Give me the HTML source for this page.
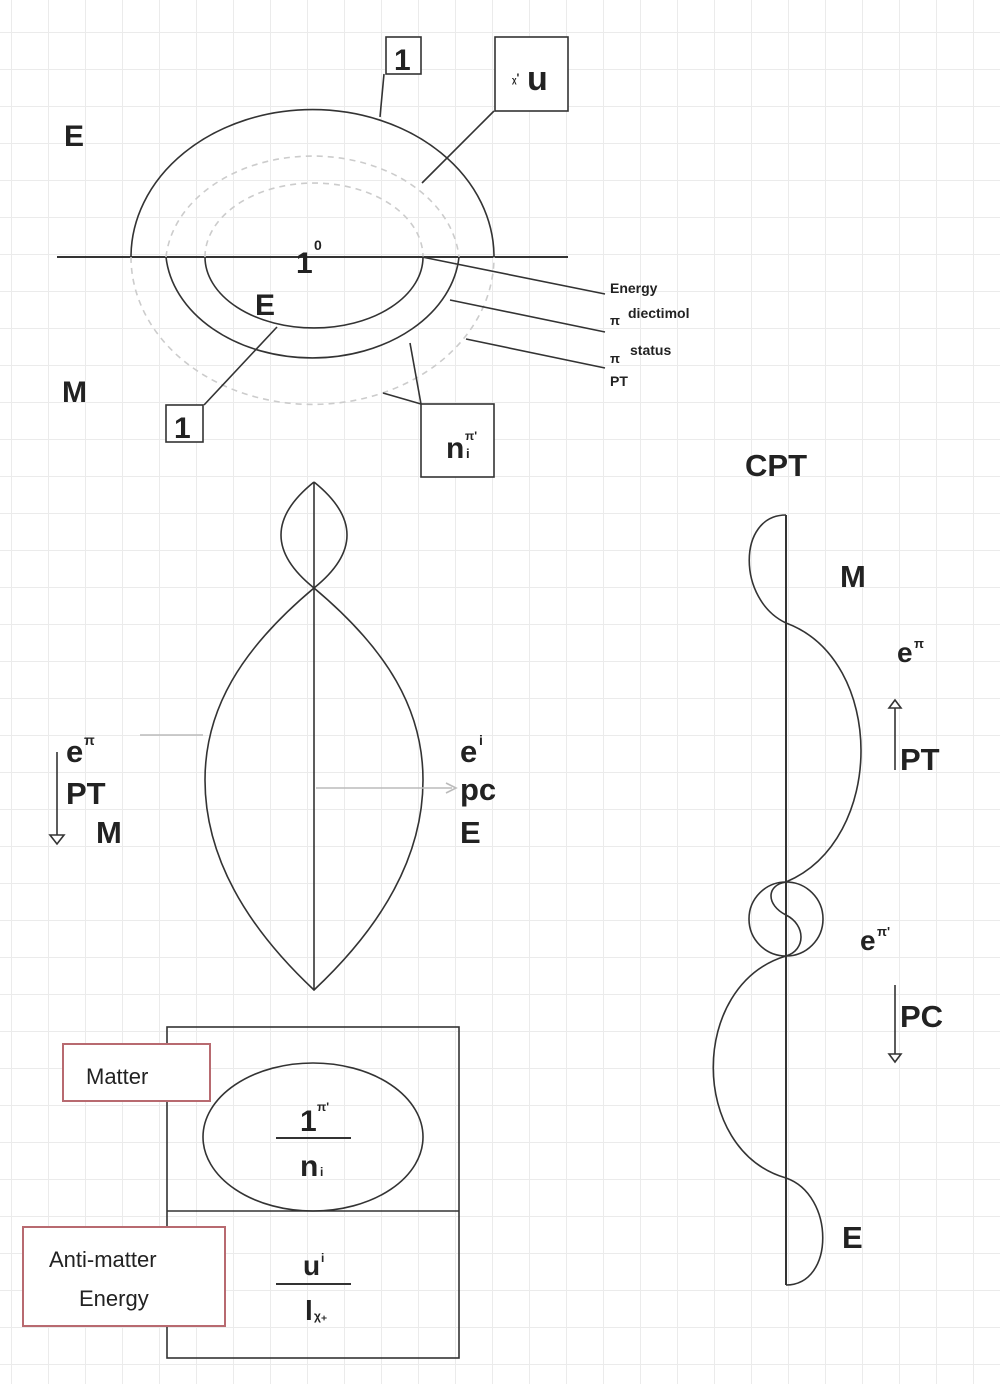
<!DOCTYPE html>
<html><head><meta charset="utf-8"><style>
html,body{margin:0;padding:0;background:#fff}
svg{display:block}
.b{font-family:"Liberation Sans",sans-serif;font-weight:bold;fill:#222}
.n{font-family:"Liberation Sans",sans-serif;fill:#222}
</style></head><body>
<svg width="1000" height="1384" viewBox="0 0 1000 1384" xmlns="http://www.w3.org/2000/svg">
<defs>
<pattern id="g" x="11" y="32" width="37" height="37" patternUnits="userSpaceOnUse">
<path d="M0 0H37M0 0V37" stroke="#ebebeb" stroke-width="2" fill="none"/>
</pattern>
</defs>
<rect width="1000" height="1384" fill="#fff"/>
<rect width="1000" height="1384" fill="url(#g)"/>
<g stroke="#333" stroke-width="1.6" fill="none">
<line x1="57" y1="257" x2="568" y2="257" stroke-width="2"/>
<path d="M131 257 A181 147 0 0 1 494 257"/>
<path d="M131 257 A181 147 0 0 0 494 257" stroke="#ccc" stroke-dasharray="6 5"/>
<path d="M166 257 A147 110 0 0 1 459 257" stroke="#ccc" stroke-dasharray="6 5"/>
<path d="M166 257 A147 110 0 0 0 459 257"/>
<path d="M205 257 A109 74 0 0 1 423 257" stroke="#ccc" stroke-dasharray="6 5"/>
<path d="M205 257 A109 71 0 0 0 423 257"/>
<rect x="386" y="37" width="35" height="37" fill="#fff"/>
<line x1="384" y1="74" x2="380" y2="117"/>
<rect x="495" y="37" width="73" height="74" fill="#fff"/>
<line x1="494" y1="111" x2="422" y2="183"/>
<rect x="166" y="405" width="37" height="37" fill="#fff"/>
<line x1="204" y1="405" x2="277" y2="327"/>
<rect x="421" y="404" width="73" height="73" fill="#fff"/>
<line x1="421" y1="404" x2="410" y2="343"/>
<line x1="421" y1="404" x2="383" y2="393"/>
<line x1="422" y1="257" x2="605" y2="294"/>
<line x1="450" y1="300" x2="605" y2="332"/>
<line x1="466" y1="339" x2="605" y2="368"/>
<line x1="314" y1="482" x2="314" y2="990"/>
<path d="M314 482 Q248 535 314 588 Q380 535 314 482"/>
<path d="M314 588 C240 650 205 710 205 780 C205 860 250 930 314 990 C378 930 423 860 423 780 C423 710 388 650 314 588"/>
<line x1="57" y1="752" x2="57" y2="835"/>
<path d="M50 835 H64 L57 844 Z"/>
<line x1="140" y1="735" x2="203" y2="735" stroke="#bbb"/>
<line x1="316" y1="788" x2="452" y2="788" stroke="#bbb"/>
<path d="M446 783 L456 788 L446 793" stroke="#bbb"/>
<rect x="167" y="1027" width="292" height="331"/>
<line x1="167" y1="1211" x2="459" y2="1211"/>
<ellipse cx="313" cy="1137" rx="110" ry="74"/>
<line x1="276" y1="1138" x2="351" y2="1138" stroke-width="2"/>
<line x1="276" y1="1284" x2="351" y2="1284" stroke-width="2"/>
<rect x="63" y="1044" width="147" height="57" stroke="#b86a70" stroke-width="2" fill="#fff"/>
<rect x="23" y="1227" width="202" height="99" stroke="#b86a70" stroke-width="2" fill="#fff"/>
<line x1="786" y1="515" x2="786" y2="1285" stroke-width="2"/>
<path d="M786 515 C737 515 737 600 786 623 C886 660 886 840 786 882"/>
<circle cx="786" cy="919" r="37"/>
<path d="M786 882 C766 885 766 905 786 915 C806 925 806 950 786 956"/>
<path d="M786 956 C689 985 689 1150 786 1178 C835 1195 835 1285 786 1285"/>
<line x1="895" y1="708" x2="895" y2="770"/>
<path d="M889 708 H901 L895 700 Z"/>
<line x1="895" y1="985" x2="895" y2="1054"/>
<path d="M889 1054 H901 L895 1062 Z"/>
</g>
<text class="b" x="64" y="146" font-size="30">E</text>
<text class="b" x="62" y="402" font-size="30">M</text>
<text class="b" x="296" y="273" font-size="30">1</text>
<text class="b" x="314" y="250" font-size="14">0</text>
<text class="b" x="255" y="315" font-size="30">E</text>
<text class="b" x="394" y="70" font-size="30">1</text>
<text class="b" x="174" y="438" font-size="30">1</text>
<text class="b" x="512" y="82" font-size="12">ᵪ'</text>
<text class="b" x="527" y="90" font-size="34">u</text>
<text class="b" x="446" y="458" font-size="30">n</text>
<text class="b" x="465" y="440" font-size="12">π'</text>
<text class="b" x="466" y="458" font-size="13">i</text>
<text class="b" x="610" y="293" font-size="14">Energy</text>
<text class="b" x="610" y="325" font-size="13">π</text>
<text class="b" x="628" y="318" font-size="14">diectimol</text>
<text class="b" x="610" y="363" font-size="13">π</text>
<text class="b" x="630" y="355" font-size="14">status</text>
<text class="b" x="610" y="386" font-size="14">PT</text>
<text class="b" x="66" y="762" font-size="31">e</text>
<text class="b" x="84" y="745" font-size="14">π</text>
<text class="b" x="66" y="804" font-size="31">PT</text>
<text class="b" x="96" y="843" font-size="31">M</text>
<text class="b" x="460" y="762" font-size="31">e</text>
<text class="b" x="479" y="745" font-size="14">i</text>
<text class="b" x="460" y="800" font-size="31">pc</text>
<text class="b" x="460" y="843" font-size="31">E</text>
<text class="n" x="86" y="1084" font-size="22">Matter</text>
<text class="n" x="49" y="1267" font-size="22">Anti-matter</text>
<text class="n" x="79" y="1306" font-size="22">Energy</text>
<text class="b" x="300" y="1131" font-size="30">1</text>
<text class="b" x="317" y="1111" font-size="12">π'</text>
<text class="b" x="300" y="1176" font-size="30">n</text>
<text class="b" x="320" y="1176" font-size="12">i</text>
<text class="b" x="303" y="1275" font-size="28">u</text>
<text class="b" x="321" y="1262" font-size="12">i</text>
<text class="b" x="305" y="1320" font-size="28">l</text>
<text class="b" x="314" y="1320" font-size="12">χ₊</text>
<text class="b" x="745" y="476" font-size="31">CPT</text>
<text class="b" x="840" y="587" font-size="31">M</text>
<text class="b" x="897" y="662" font-size="28">e</text>
<text class="b" x="914" y="648" font-size="13">π</text>
<text class="b" x="900" y="770" font-size="31">PT</text>
<text class="b" x="860" y="950" font-size="28">e</text>
<text class="b" x="877" y="936" font-size="13">π'</text>
<text class="b" x="900" y="1027" font-size="31">PC</text>
<text class="b" x="842" y="1248" font-size="31">E</text>
</svg>
</body></html>
